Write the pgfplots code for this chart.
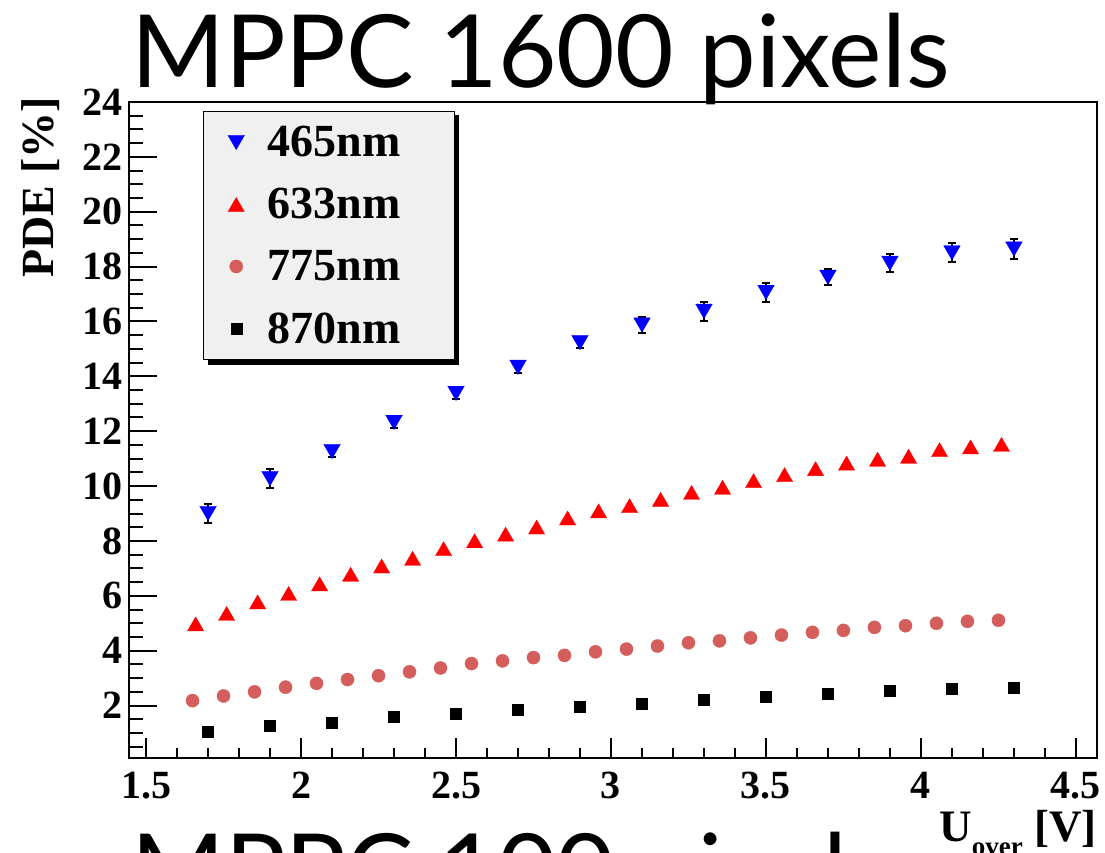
\documentclass[border=0pt]{standalone}
\usepackage{fontspec}
\setmainfont{Liberation Serif}
\newfontfamily\titlefont{Lato}
\usepackage{pgfplots}
\usepackage{pgfplotstable}
\pgfplotsset{compat=1.18}
\definecolor{pdeblue}{RGB}{0,0,255}
\definecolor{pdered}{RGB}{255,0,0}
\definecolor{pdepink}{RGB}{211,94,91}
\definecolor{legbg}{RGB}{240,240,240}

\pgfplotstableread{
x y e
1.7 9.00 0.36
1.9 10.27 0.35
2.1 11.26 0.2
2.3 12.32 0.2
2.5 13.38 0.2
2.7 14.33 0.2
2.9 15.23 0.2
3.1 15.87 0.30
3.3 16.37 0.35
3.5 17.06 0.35
3.7 17.61 0.29
3.9 18.12 0.33
4.1 18.50 0.35
4.3 18.64 0.35
}\tblue

\pgfplotstableread{
x y
1.66 4.98
1.76 5.36
1.86 5.78
1.96 6.09
2.06 6.44
2.16 6.79
2.26 7.09
2.36 7.37
2.46 7.72
2.56 8.01
2.66 8.25
2.76 8.51
2.86 8.84
2.96 9.10
3.06 9.29
3.16 9.52
3.26 9.77
3.36 9.96
3.46 10.20
3.56 10.42
3.66 10.64
3.76 10.84
3.86 10.98
3.96 11.09
4.06 11.33
4.16 11.43
4.26 11.52
}\tred

\pgfplotstableread{
x y
1.65 2.18
1.75 2.35
1.85 2.50
1.95 2.67
2.05 2.81
2.15 2.95
2.25 3.09
2.35 3.23
2.45 3.37
2.55 3.53
2.65 3.63
2.75 3.75
2.85 3.83
2.95 3.96
3.05 4.06
3.15 4.17
3.25 4.29
3.35 4.36
3.45 4.47
3.55 4.57
3.65 4.67
3.75 4.74
3.85 4.85
3.95 4.91
4.05 5.00
4.15 5.07
4.25 5.11
}\tpink

\pgfplotstableread{
x y
1.7 1.05
1.9 1.26
2.1 1.38
2.3 1.58
2.5 1.70
2.7 1.84
2.9 1.95
3.1 2.08
3.3 2.20
3.5 2.33
3.7 2.45
3.9 2.55
4.1 2.62
4.3 2.67
}\tblack

\begin{document}
\begin{tikzpicture}
% legend shadow
\fill[black] (208bp,487.8bp) rectangle (458.5bp,737.5bp);
\begin{axis}[
  at={(129bp,95.3bp)}, anchor=south west,
  scale only axis, width=967.7bp, height=655.7bp,
  xmin=1.445, xmax=4.567, ymin=0.1, ymax=24,
  axis line style={line width=2.2bp},
  xtick=\empty,
  ytick={2,4,...,24},
  minor ytick={0.5,1,...,24},
  ytick pos=left, tick align=inside,
  major tick length=28bp, minor tick length=14bp,
  every tick/.style={black, line width=2bp},
  /pgf/number format/assume math mode=true,
  yticklabel style={font=\fontsize{40bp}{40bp}\selectfont\bfseries, inner sep=0pt, xshift=-6bp},
  clip=false,
  legend style={at={(0.0768,0.9863)}, anchor=north west,
    fill=legbg, draw=black, line width=1bp,
    inner xsep=0pt, inner ysep=0pt, row sep=0pt, column sep=11.6bp,
    nodes={inner sep=0pt, anchor=west},
    font=\fontsize{46bp}{46bp}\selectfont\bfseries},
  legend cell align=left,
  legend image code/.code={\path[draw=none, fill=none] (-32.4bp,-31bp) rectangle (20bp,31bp); \draw[#1] plot coordinates {(0bp,0bp)};},
]
\addplot[only marks, mark=triangle*, mark size=9.6bp, color=pdeblue,
  mark options={yshift=2.4bp, rotate=180, fill=pdeblue, draw=pdeblue, line width=0.3bp},
  error bars/.cd, y dir=both, y explicit,
  error bar style={black, line width=1.8bp},
  error mark options={rotate=90, mark size=4bp, line width=2bp, black}]
  table[x=x, y=y, y error=e] {\tblue};
\addlegendentry{\makebox[186.7bp][l]{465nm}}
\addplot[only marks, mark=triangle*, mark size=9.4bp, color=pdered,
  mark options={yshift=-2.4bp, fill=pdered, draw=pdered, line width=0.3bp}]
  table[x=x, y=y] {\tred};
\addlegendentry{\makebox[186.7bp][l]{633nm}}
\addplot[only marks, mark=*, mark size=6.6bp, color=pdepink,
  mark options={fill=pdepink, draw=pdepink, line width=0.3bp}]
  table[x=x, y=y] {\tpink};
\addlegendentry{\makebox[186.7bp][l]{775nm}}
\addplot[only marks, mark=square*, mark size=5.5bp, color=black,
  mark options={fill=black, draw=black, line width=0.3bp}]
  table[x=x, y=y] {\tblack};
\addlegendentry{\makebox[186.7bp][l]{870nm}}
\end{axis}
\begin{axis}[
  at={(129bp,95.3bp)}, anchor=south west,
  scale only axis, width=967.7bp, height=655.7bp,
  xmin=1.445, xmax=4.567, ymin=0.1, ymax=24,
  axis line style={draw=none},
  ytick=\empty,
  xtick={1.5,2,2.5,3,3.5,4,4.5},
  xticklabels={1.5,2,2.5,3,3.5,4,4.5},
  minor xtick={1.6,1.7,1.8,1.9,2.1,2.2,2.3,2.4,2.6,2.7,2.8,2.9,3.1,3.2,3.3,3.4,3.6,3.7,3.8,3.9,4.1,4.2,4.3,4.4},
  xtick pos=bottom, tick align=inside,
  major tick length=20bp, minor tick length=10bp,
  every tick/.style={black, line width=2bp},
  /pgf/number format/assume math mode=true,
  xticklabel style={font=\fontsize{40bp}{40bp}\selectfont\bfseries, inner sep=0pt, yshift=-14bp},
]
\end{axis}
\node[anchor=base west, inner sep=0pt, font=\titlefont\fontsize{101bp}{101bp}\selectfont] at (131bp,765bp) {MPPC 1600 pixels};
\node[anchor=base west, inner sep=0pt, font=\titlefont\fontsize{101bp}{101bp}\selectfont] at (131bp,-53bp) {MPPC 100 pixels};
\node[rotate=90, anchor=base east, inner sep=0pt, font=\fontsize{46bp}{46bp}\selectfont\bfseries] at (53.3bp,756bp) {PDE [\%]};
\node[anchor=base east, inner sep=0pt, font=\fontsize{45bp}{45bp}\selectfont\bfseries] at (1096.7bp,11.3bp) {U\raisebox{-14bp}{\fontsize{27bp}{27bp}\selectfont over} [V]};
\pgfresetboundingbox
\path[use as bounding box] (0,0) rectangle (1105bp,853bp);
\end{tikzpicture}
\end{document}
